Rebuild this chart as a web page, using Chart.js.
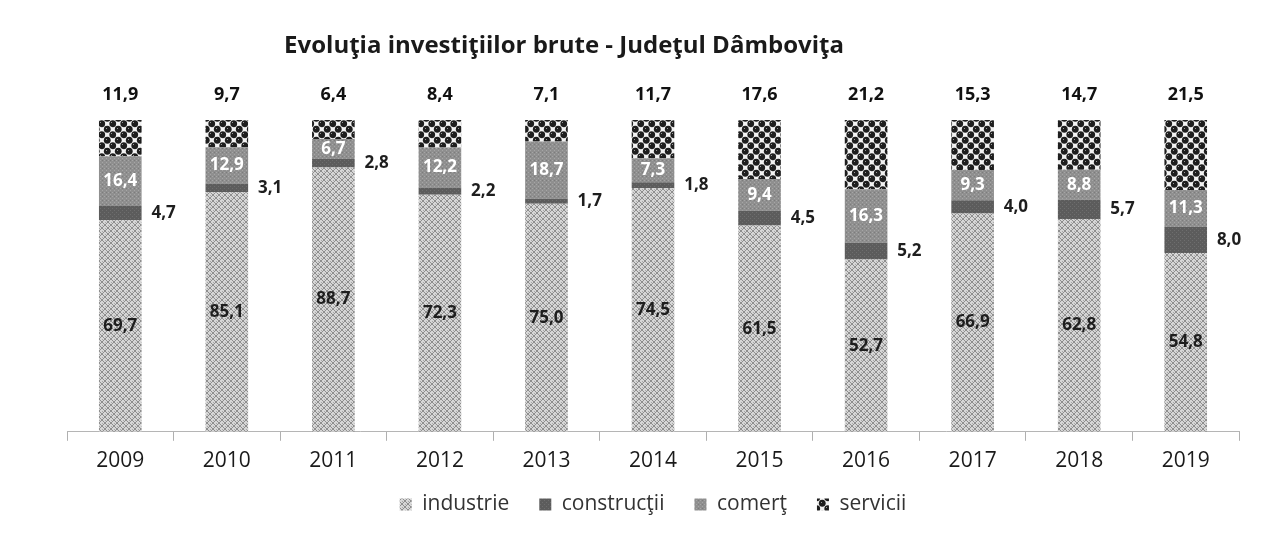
<!DOCTYPE html>
<html>
<head>
<meta charset="utf-8">
<script src="https://cdn.jsdelivr.net/npm/chart.js@4.4.0/dist/chart.umd.min.js"></script>
<style>
  html, body { margin: 0; padding: 0; background: #fff; }
  #wrap { position: relative; width: 1262px; height: 543px; }
</style>
</head>
<body>
<div id="wrap"><canvas id="chart" width="1262" height="543"></canvas></div>
<script>
// data (values as printed on the bars)
const years = ['2009', '2010', '2011', '2012', '2013', '2014', '2015', '2016', '2017', '2018', '2019'];
const industrie = [69.7, 85.1, 88.7, 72.3, 75.0, 74.5, 61.5, 52.7, 66.9, 62.8, 54.8];
const constructii = [4.7, 3.1, 2.8, 2.2, 1.7, 1.8, 4.5, 5.2, 4.0, 5.7, 8.0];
const comert = [16.4, 12.9, 6.7, 12.2, 18.7, 7.3, 9.4, 16.3, 9.3, 8.8, 11.3];
const servicii = [11.9, 9.7, 6.4, 8.4, 7.1, 11.7, 17.6, 21.2, 15.3, 14.7, 21.5];
const seriesNames = ['industrie', 'construcţii', 'comerţ', 'servicii'];
const chartTitle = 'Evoluţia investiţiilor brute - Judeţul Dâmboviţa';

const FONT = "'Open Sans', 'Liberation Sans', sans-serif";

// fill patterns (the original is a grey-scale scan with textured fills)
function makePattern(size, draw) {
  const c = document.createElement('canvas');
  c.width = size;
  c.height = size;
  const g = c.getContext('2d');
  draw(g, size);
  return g.createPattern(c, 'repeat');
}

const industriePattern = makePattern(6, function(g, s) {
  g.fillStyle = '#d6d6d6';
  g.fillRect(0, 0, s, s);
  g.fillStyle = '#8e8e8e';
  for (let i = 0; i < s; i++) {
    g.fillRect(i, i, 1, 1);
    g.fillRect(s - 1 - i, i, 1, 1);
  }
  g.fillStyle = '#a8a8a8';
  g.fillRect(0, 3, 1, 1);
  g.fillRect(3, 0, 1, 1);
});

const constructiiPattern = makePattern(4, function(g, s) {
  g.fillStyle = '#5c5c5c';
  g.fillRect(0, 0, s, s);
  g.fillStyle = '#6e6e6e';
  g.fillRect(0, 0, 1, 1);
  g.fillRect(2, 2, 1, 1);
});

const comertPattern = makePattern(4, function(g, s) {
  g.fillStyle = '#8f8f8f';
  g.fillRect(0, 0, s, s);
  g.fillStyle = '#a6a6a6';
  g.fillRect(0, 0, 1, 1);
  g.fillRect(2, 2, 1, 1);
  g.fillStyle = '#7c7c7c';
  g.fillRect(2, 0, 1, 1);
});

const serviciiPattern = makePattern(11, function(g, s) {
  g.fillStyle = '#f2f2f2';
  g.fillRect(0, 0, s, s);
  g.fillStyle = '#1e1e1e';
  [[2.75, 2.75], [8.25, 8.25], [8.25, -2.75], [-2.75, 8.25], [13.75, 2.75], [2.75, 13.75]].forEach(function(p) {
    g.beginPath();
    g.arc(p[0], p[1], 3.4, 0, Math.PI * 2);
    g.fill();
  });
  g.fillStyle = '#9a9a9a';
  g.fillRect(1, 1, 1, 1);
  g.fillRect(7, 7, 1, 1);
});

// 100% stacked: every bar is scaled to its own total
const totals = years.map(function(y, i) {
  return industrie[i] + constructii[i] + comert[i] + servicii[i];
});
function share(values) {
  return values.map(function(v, i) { return v / totals[i] * 100; });
}

const rawValues = [industrie, constructii, comert, servicii];
const fills = [industriePattern, constructiiPattern, comertPattern, serviciiPattern];

const datasets = rawValues.map(function(values, k) {
  return {
    label: seriesNames[k],
    data: share(values),
    backgroundColor: fills[k],
    borderWidth: 0,
    barPercentage: 0.4,
    categoryPercentage: 1.0
  };
});

function fmt(v) {
  return v.toFixed(1).replace('.', ',');
}

// data labels, placed like in the original
const valueLabels = {
  id: 'valueLabels',
  afterDatasetsDraw(chart) {
    const ctx = chart.ctx;
    ctx.save();
    ctx.textAlign = 'center';
    ctx.textBaseline = 'middle';
    chart.data.datasets.forEach(function(ds, k) {
      const meta = chart.getDatasetMeta(k);
      meta.data.forEach(function(bar, j) {
        const txt = fmt(rawValues[k][j]);
        const mid = (bar.y + bar.base) / 2;
        if (k === 0) {
          ctx.font = 'bold 17px ' + FONT;
          ctx.fillStyle = '#1e1e1e';
          ctx.fillText(txt, bar.x, mid);
        } else if (k === 1) {
          ctx.font = 'bold 17px ' + FONT;
          ctx.fillStyle = '#1e1e1e';
          ctx.fillText(txt, bar.x + bar.width / 2 + 22, mid);
        } else if (k === 2) {
          ctx.font = 'bold 17px ' + FONT;
          ctx.fillStyle = '#ffffff';
          ctx.fillText(txt, bar.x, mid);
        } else {
          ctx.font = 'bold 18px ' + FONT;
          ctx.fillStyle = '#111111';
          ctx.fillText(txt, bar.x, bar.y - 25);
        }
      });
    });
    ctx.restore();
  }
};

// title sits left of the canvas centre in the original, so draw it by hand
const titlePlugin = {
  id: 'offsetTitle',
  afterDraw(chart) {
    const ctx = chart.ctx;
    ctx.save();
    ctx.font = 'bold 24px ' + FONT;
    ctx.fillStyle = '#1a1a1a';
    ctx.textAlign = 'center';
    ctx.textBaseline = 'middle';
    ctx.fillText(chartTitle, 564, 46);
    ctx.restore();
  }
};

// legend sits closer to the year labels than chart.js would place it
const legendNudge = {
  id: 'legendNudge',
  afterLayout(chart) {
    const lg = chart.legend;
    if (lg) {
      lg.top -= 18;
      lg.bottom -= 18;
    }
  }
};

new Chart(document.getElementById('chart'), {
  type: 'bar',
  data: {
    labels: years,
    datasets: datasets
  },
  options: {
    responsive: false,
    animation: false,
    layout: {
      padding: { top: 120, left: 67, right: 23, bottom: 0 }
    },
    plugins: {
      title: { display: false },
      tooltip: { enabled: false },
      legend: {
        display: true,
        position: 'bottom',
        labels: {
          boxWidth: 12,
          boxHeight: 12,
          padding: 30,
          color: '#333333',
          font: { family: FONT, size: 21 }
        }
      }
    },
    scales: {
      x: {
        stacked: true,
        grid: {
          display: true,
          drawOnChartArea: false,
          drawTicks: true,
          tickLength: 9,
          color: '#b0b0b0',
          offset: true
        },
        border: { display: true, color: '#b5b5b5', dash: [2, 2] },
        ticks: {
          color: '#1a1a1a',
          padding: 8,
          font: { family: FONT, size: 21 }
        }
      },
      y: {
        stacked: true,
        display: false,
        min: 0,
        max: 100
      }
    }
  },
  plugins: [valueLabels, titlePlugin, legendNudge]
});
</script>
</body>
</html>
